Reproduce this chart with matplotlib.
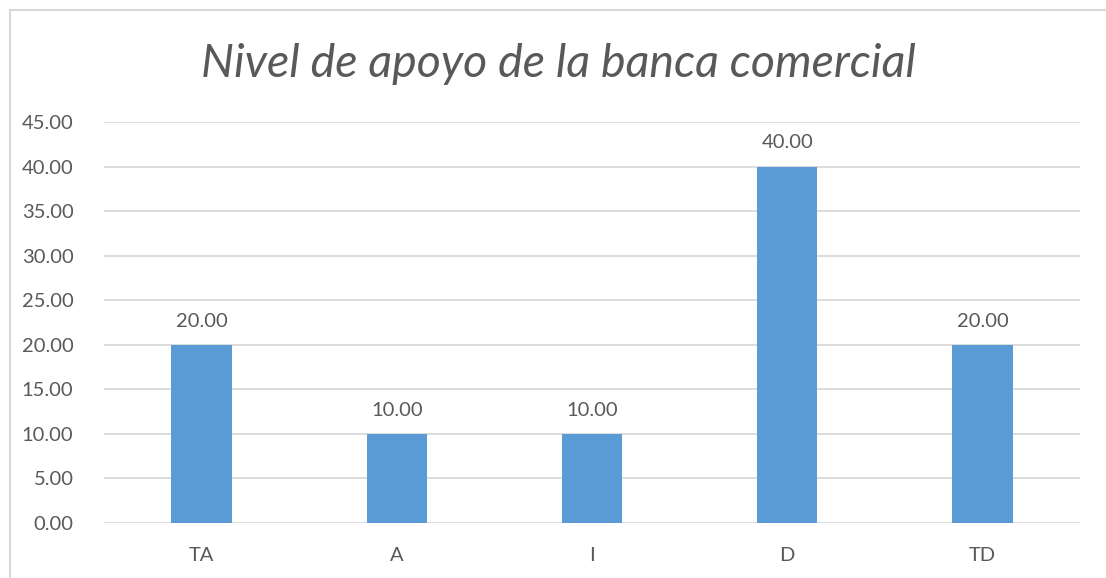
import matplotlib.pyplot as plt
from matplotlib.patches import Rectangle

categories = ['TA', 'A', 'I', 'D', 'TD']
values = [20.00, 10.00, 10.00, 40.00, 20.00]
yticks = [0, 5, 10, 15, 20, 25, 30, 35, 40, 45]

plt.rcParams['font.family'] = ['Lato', 'DejaVu Sans']
text_col = '#595959'
grid_col = '#D9D9D9'

fig = plt.figure(figsize=(11.06, 5.78), dpi=100)
# chart frame (top/left visible, runs off the right and bottom)
fig.patches.append(Rectangle((10 / 1106, -0.1), 1.2, (578 - 10) / 578 + 0.1,
                             transform=fig.transFigure, fill=False,
                             edgecolor=grid_col, linewidth=1.5))

ax = fig.add_axes([104 / 1106, (578 - 523) / 578, 976 / 1106, 401 / 578])
x = range(len(categories))
bars = ax.bar(x, values, width=0.31, color='#5B9BD5', zorder=3)
for rect, v in zip(bars, values):
    ax.text(rect.get_x() + rect.get_width() / 2, v + 1.7, '%.2f' % v,
            ha='center', va='bottom', fontsize=14.5, color=text_col)

ax.set_xlim(-0.5, len(categories) - 0.5)
ax.set_ylim(0, 45)
ax.set_yticks(yticks)
ax.set_yticklabels(['%.2f' % t for t in yticks])
ax.set_xticks(list(x))
ax.set_xticklabels(categories)
ax.tick_params(axis='both', length=0, labelsize=14.5, labelcolor=text_col)
ax.tick_params(axis='y', pad=22)
ax.tick_params(axis='x', pad=17)
ax.grid(axis='y', color=grid_col, linewidth=1.3, zorder=0)
for s in ax.spines.values():
    s.set_visible(False)

fig.text(0.505, 1 - 64 / 578, 'Nivel de apoyo de la banca comercial',
         ha='center', va='center', fontsize=33.5, style='italic', color=text_col)

plt.savefig('out.png', dpi=100)
